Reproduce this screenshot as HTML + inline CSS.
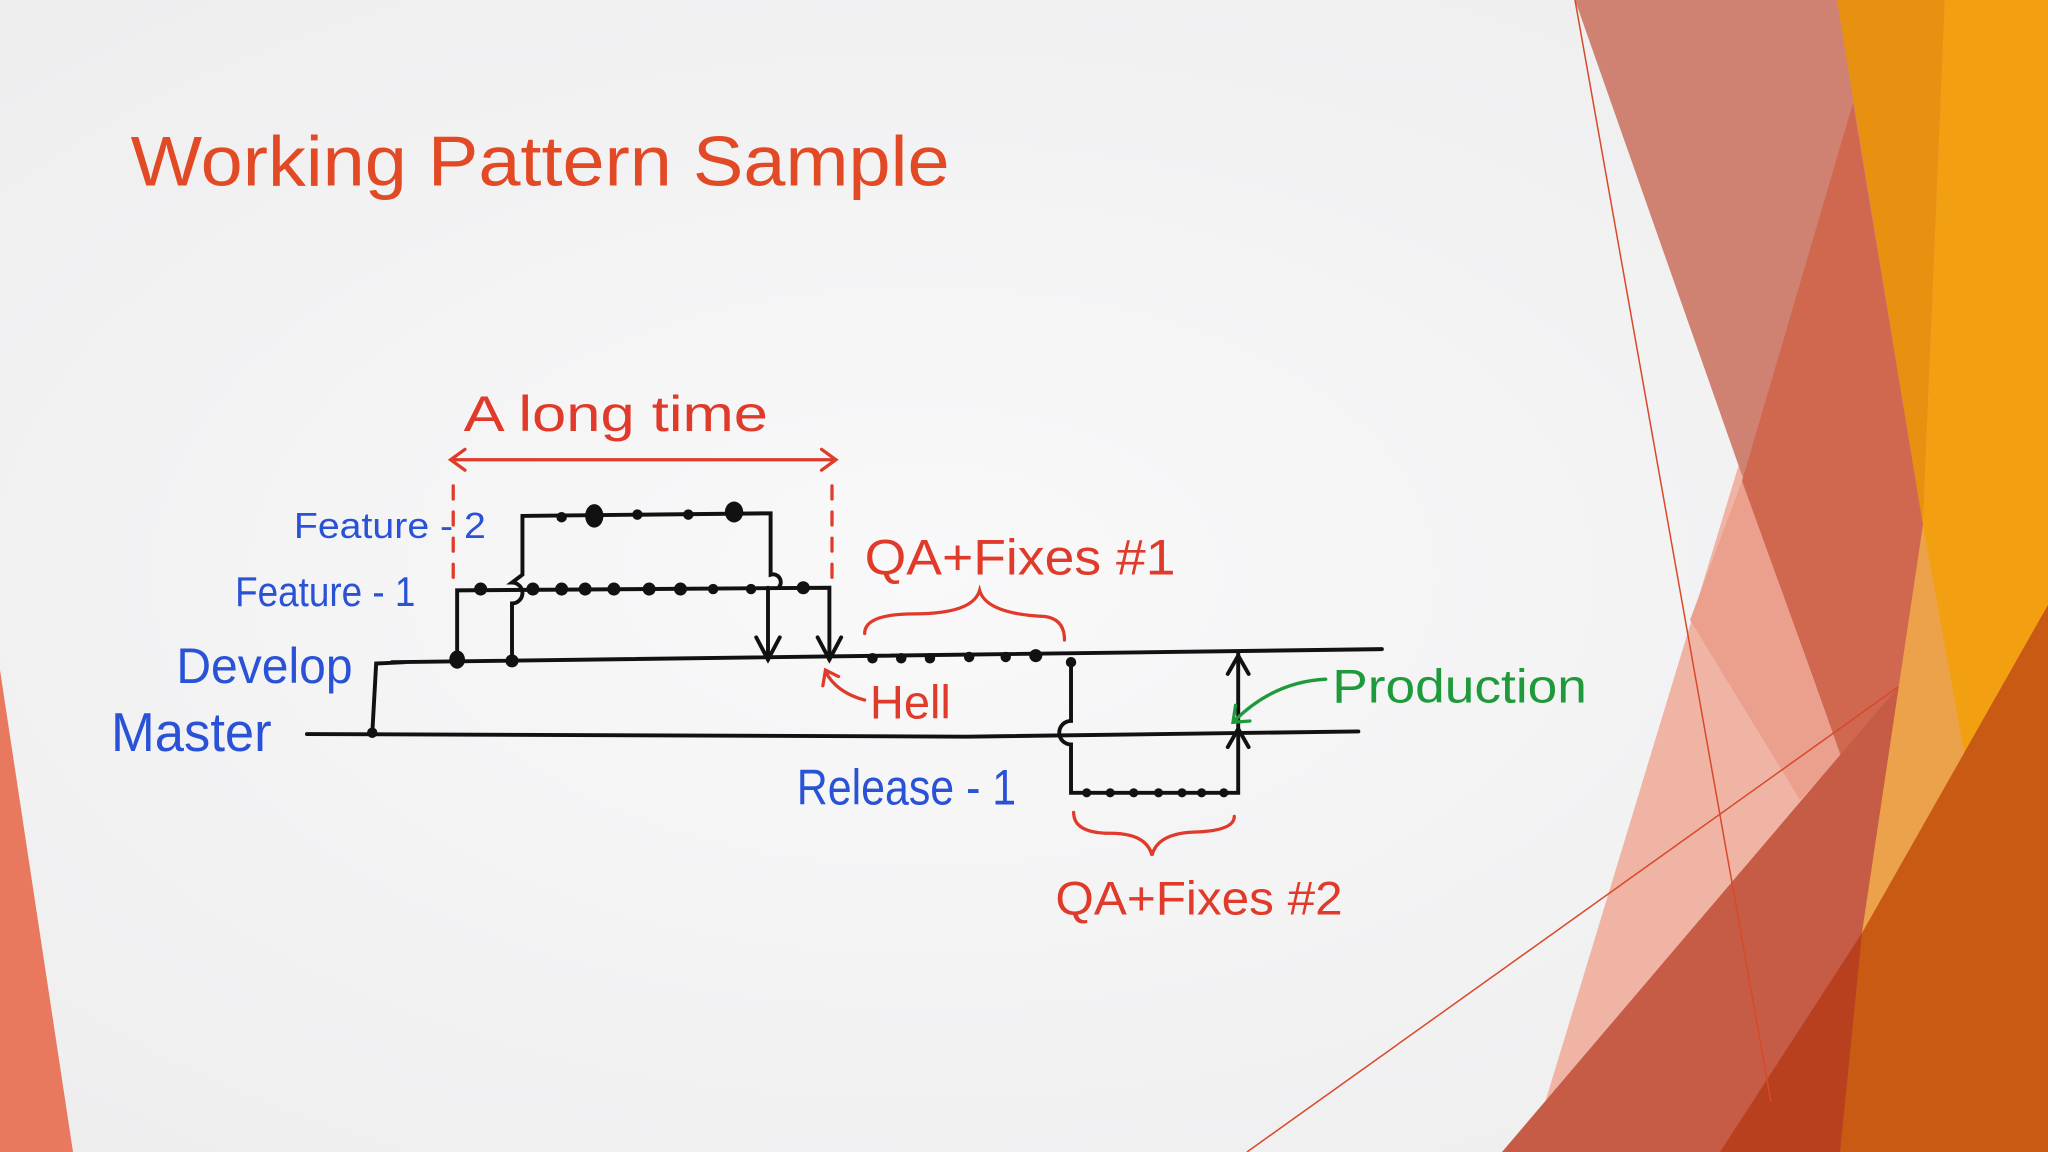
<!DOCTYPE html>
<html><head><meta charset="utf-8"><style>
html,body{margin:0;padding:0;width:2048px;height:1152px;overflow:hidden;background:#f2f2f3}
svg{display:block}
</style></head><body>
<svg width="2048" height="1152" viewBox="0 0 2048 1152" xmlns="http://www.w3.org/2000/svg">
<defs>
<radialGradient id="bg" cx="0.45" cy="0.5" r="0.7"><stop offset="0" stop-color="#f9f9fa"/><stop offset="1" stop-color="#ededee"/></radialGradient>
</defs>
<rect width="2048" height="1152" fill="url(#bg)"/>
<polygon points="0,670 73,1152 0,1152" fill="#e8795e"/>
<polygon points="1530,1152 1880,0 2048,0 2048,1152" fill="#efb4a4"/>
<polygon points="1690,620 1742,481 1841,757 1800,800" fill="#eba08e"/>
<polygon points="1575,0 1840,0 1923,525 1876,852 1841,757" fill="#cf8272"/>
<polygon points="1853,103 1923,525 1876,852 1742,481" fill="#d06850"/>
<polygon points="1502,1152 1898,687 2048,600 2048,1152" fill="#c65c45"/>
<polygon points="1837,0 1945,0 1923,525" fill="#e8900f"/>
<polygon points="1945,0 2048,0 2048,605 1862,933 1923,525" fill="#f2a012"/>
<polygon points="1923,525 1965,757 1862,933" fill="#eca24a"/>
<polygon points="1760,1152 1862,933 2048,605 2048,1152" fill="#c85a14"/>
<polygon points="1720,1152 1862,933 1840,1152" fill="#b8401f"/>
<line x1="1575" y1="0" x2="1771" y2="1102" stroke="#d9482a" stroke-width="1.5"/>
<line x1="1247" y1="1152" x2="1898" y2="687" stroke="#d9482a" stroke-width="1.5"/>
<g transform="scale(1.30612)">
<text x="100" y="142" font-family="Liberation Sans, sans-serif" font-size="54" fill="#e24a26" textLength="627" lengthAdjust="spacingAndGlyphs">Working Pattern Sample</text>
<g stroke="#111" stroke-width="3" fill="none" stroke-linecap="round">
<path d="M235 562 L740 564 L1040 560"/>
<path d="M285 562 L288 508 L310 507 M300 507 L1058 497"/>
<path d="M350 507 L350 452 L635 450 L635 505"/>
<path d="M392 507 L392 462 A8 8 0 0 0 392 446 L400 440 L400 395 L590 393 L590 440 A6 6 0 0 1 596 450 M588 450 L588 505"/>
<path d="M579 488 L588 505 L597 488 M626 488 L635 505 L644 488"/>
<path d="M820 505 L820 552 A8 8 0 0 0 820 570 L820 607 L948 607 L948 500"/>
<path d="M940 516 L948 502 L956 516 M940 572 L948 558 L956 572"/>
</g>
<g fill="#111">
<circle cx="430" cy="396" r="4"/><ellipse cx="455" cy="395" rx="7" ry="9"/><circle cx="488" cy="394" r="4"/><circle cx="527" cy="394" r="4"/><ellipse cx="562" cy="392" rx="7" ry="8"/>
<circle cx="368" cy="451" r="5"/><circle cx="408" cy="451" r="5"/><circle cx="430" cy="451" r="5"/><circle cx="448" cy="451" r="5"/><circle cx="470" cy="451" r="5"/><circle cx="497" cy="451" r="5"/><circle cx="521" cy="451" r="5"/><circle cx="546" cy="451" r="4"/><circle cx="575" cy="451" r="4"/><circle cx="615" cy="450" r="5"/>
<ellipse cx="350" cy="505" rx="6" ry="7"/><circle cx="392" cy="506" r="5"/><circle cx="285" cy="561" r="4"/>
<circle cx="668" cy="504" r="4"/><circle cx="690" cy="504" r="4"/><circle cx="712" cy="504" r="4"/><circle cx="742" cy="503" r="4"/><circle cx="770" cy="503" r="4"/><circle cx="793" cy="502" r="5"/><circle cx="820" cy="507" r="4"/>
<circle cx="832" cy="607" r="3.5"/><circle cx="850" cy="607" r="3.5"/><circle cx="868" cy="607" r="3.5"/><circle cx="887" cy="607" r="3.5"/><circle cx="905" cy="607" r="3.5"/><circle cx="920" cy="607" r="3.5"/><circle cx="937" cy="607" r="3.5"/>
</g>
<g stroke="#e03a2a" stroke-width="2.5" fill="none" stroke-linecap="round">
<path d="M347 372 L347 450" stroke-dasharray="10 10"/>
<path d="M637 372 L637 450" stroke-dasharray="10 10"/>
<path d="M345 352 L640 352 M356 344 L345 352 L356 360 M629 344 L640 352 L629 360"/>
<path d="M662 485 Q662 470 700 470 Q745 470 750 452 Q755 470 800 472 Q815 474 815 490"/>
<path d="M822 622 Q822 638 850 638 Q878 638 882 655 Q886 638 915 637 Q945 636 945 625"/>
<path d="M662 536 Q640 530 632 514 M630 525 L632 513 L642 518"/>
</g>
<path d="M1015 520 Q975 522 945 552 M946 540 L944 553 L957 552" stroke="#1e9a3a" stroke-width="2.5" fill="none" stroke-linecap="round"/>
<g font-family="Liberation Sans, sans-serif" fill="#e03a2a" lengthAdjust="spacingAndGlyphs">
<text x="355" y="330" font-size="38" textLength="233" lengthAdjust="spacingAndGlyphs">A long time</text>
<text x="662" y="440" font-size="38" textLength="238" lengthAdjust="spacingAndGlyphs">QA+Fixes #1</text>
<text x="666" y="550" font-size="36" textLength="62" lengthAdjust="spacingAndGlyphs">Hell</text>
<text x="808" y="700" font-size="36" textLength="220" lengthAdjust="spacingAndGlyphs">QA+Fixes #2</text>
</g>
<text x="1020" y="538" font-family="Liberation Sans, sans-serif" font-size="36" fill="#1e9a3a" textLength="195" lengthAdjust="spacingAndGlyphs">Production</text>
<g font-family="Liberation Sans, sans-serif" fill="#2a52d6">
<text x="225" y="412" font-size="28" textLength="147" lengthAdjust="spacingAndGlyphs">Feature - 2</text>
<text x="180" y="464" font-size="32" textLength="138" lengthAdjust="spacingAndGlyphs">Feature - 1</text>
<text x="135" y="523" font-size="38" textLength="135" lengthAdjust="spacingAndGlyphs">Develop</text>
<text x="85" y="575" font-size="42" textLength="123" lengthAdjust="spacingAndGlyphs">Master</text>
<text x="610" y="616" font-size="38" textLength="168" lengthAdjust="spacingAndGlyphs">Release - 1</text>
</g>
</g>
</svg>
</body></html>
